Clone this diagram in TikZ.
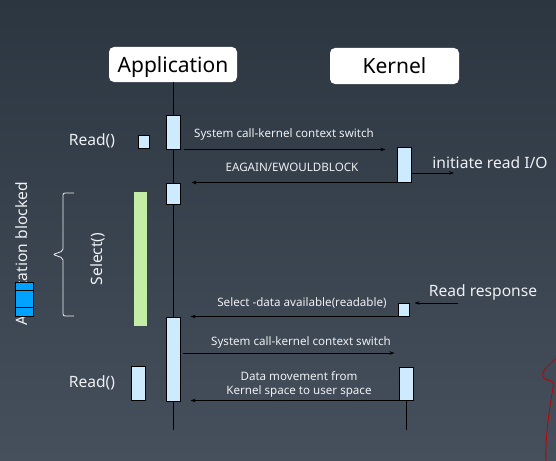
\documentclass[tikz,border=0pt]{standalone}
\usepackage{fontspec}
\setmainfont{Noto Sans}
\usetikzlibrary{arrows.meta,calc}
\definecolor{bgtop}{HTML}{2C3641}
\definecolor{bgbot}{HTML}{46505C}
\definecolor{actblue}{HTML}{CDEBFC}
\definecolor{txt}{HTML}{EEF0F2}
\definecolor{selgreen}{HTML}{C4EDA6}
\definecolor{iconblue}{HTML}{00A2FF}
\tikzset{
  head/.style={draw=none,fill=white,rounded corners=5pt,font=\fontsize{21}{24}\selectfont,text=black,inner sep=0pt,text depth=0pt},
  act/.style={draw=black,fill=actblue,line width=1pt,inner sep=0pt,minimum width=14pt},
  life/.style={draw=black,line width=1pt},
  msg/.style={draw=black,line width=0.9pt,-{Stealth[length=5pt,width=3.5pt]}},
  lbl/.style={text=txt,font=\fontsize{11.6}{14}\selectfont,inner sep=0pt,align=center},
  big/.style={text=txt,font=\fontsize{15.6}{18}\selectfont,inner sep=0pt}
}
\begin{document}
\begin{tikzpicture}[x=1pt,y=-1pt]
\useasboundingbox (0,0) rectangle (556,460);
\shade[top color=bgtop,bottom color=bgbot] (0,0) rectangle (556,460);

% headers
\node[head,minimum width=128pt,minimum height=35pt] (app) at (173,64.5) {Application};
\node[head,minimum width=129pt,minimum height=36pt] (ker) at (394.5,66) {Kernel};

% activation boxes
\node[act,minimum height=34pt] (a1) at (173,132) {};
\node[act,minimum height=21pt] (a2) at (173,193.5) {};
\node[act,minimum height=84pt] (a3) at (173,359) {};
\node[act,minimum height=35pt] (k1) at (404,164.5) {};
\node[act,minimum width=11pt,minimum height=13pt] (k2) at (403.5,309.5) {};
\node[act,minimum height=33pt] (k3) at (406,383.5) {};
\node[act,minimum width=11pt,minimum height=13pt] (r1) at (143.5,141.5) {};
\node[act,minimum height=34pt] (r2) at (138,383) {};

% lifelines
\coordinate (append) at (173,430);
\coordinate (kerend) at (406,430);
\draw[life] (app.south) -- (a1.north);
\draw[life] (a1.south) -- (a2.north);
\draw[life] (a2.south) -- (a3.north);
\draw[life] (a3.south) -- (append);
\draw[life] (k3.south) -- (kerend);

% messages
\draw[msg] ([xshift=3pt]a1.south east) -- ([xshift=-11pt]a1.south east -| k1.west);
\node[lbl] (l1) at (284,134) {System call-kernel context switch};
\draw[msg] (k1.south west) -- ([xshift=11pt]k1.south west -| a1.east);
\node[lbl] (l2) at (292,167) {EAGAIN/EWOULDBLOCK};
\coordinate (initend) at (454,173);
\draw[msg] (k1.east |- initend) -- (initend);
\node[big] (l3) at (490,163) {initiate read I/O};
\coordinate (rrstart) at (458,303);
\draw[msg] (rrstart) -- ([xshift=5pt]k2.east |- rrstart);
\node[big] (l4) at (483,292) {Read response};
\draw[msg] (k2.south west) -- ([xshift=10pt]k2.south west -| a3.east);
\node[lbl] (l5) at (302,303) {Select -data available(readable)};
\coordinate (m4y) at (0,353);
\draw[msg] ([xshift=2pt]a3.east |- m4y) -- ([xshift=-3pt]k2.west |- m4y);
\node[lbl] (l6) at (301,342) {System call-kernel context switch};
\draw[msg] (k3.south west) -- ([xshift=10pt]k3.south west -| a3.east);
\node[lbl] (l7) at (299,384) {Data movement from\\Kernel space to user space};

% left side
\node[big] (rd1) at (92,141) {Read()};
\node[big] (rd2) at (92,383) {Read()};
\fill[selgreen] (134,192) rectangle (147,326);
\draw[txt,line width=0.8pt,rounded corners=2pt] (74,193) -- (63,193) -- (63,251) -- (53,254.5) -- (63,258) -- (63,316) -- (74,316);
\node[big,rotate=90] (sel) at (98,259) {Select()};
\node[big,rotate=90] (blk) at (23,254) {Application blocked};
\draw[black,line width=1pt,fill=iconblue] (15,282) rectangle (33,316);
\draw[black,line width=1pt] (15,290) -- (33,290) (15,307) -- (33,307);

% red pen mark
\draw[red!75!black,line width=0.8pt] (557,358) .. controls (548,365) and (538,374) .. (545,379) .. controls (550,381) and (556,381) .. (553,388) .. controls (549,410) and (545,440) .. (546,461);
\end{tikzpicture}
\end{document}
